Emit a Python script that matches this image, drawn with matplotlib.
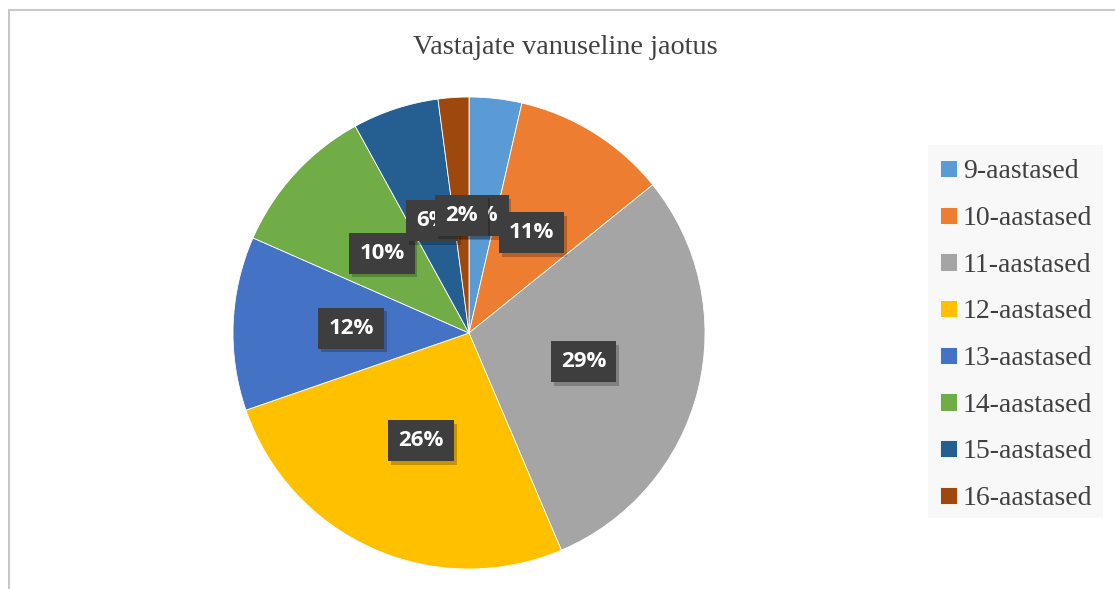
import matplotlib.pyplot as plt
import matplotlib.patheffects as pe
from matplotlib.patches import Rectangle

# data
groups = ["9-aastased", "10-aastased", "11-aastased", "12-aastased",
          "13-aastased", "14-aastased", "15-aastased", "16-aastased"]
shares = [3.6, 10.6, 29.4, 26.1, 11.9, 10.4, 5.9, 2.1]
colors = ["#5B9BD5", "#ED7D31", "#A5A5A5", "#FFC000",
          "#4472C4", "#70AD47", "#255E91", "#9E480E"]
title = "Vastajate vanuseline jaotus"

W, H = 1115, 589
fig = plt.figure(figsize=(W / 100, H / 100), dpi=100)

# chart frame
fig.patches.append(Rectangle((9 / W, -0.1), 1.2, 1 - 10 / H + 0.1,
                             transform=fig.transFigure, fill=False,
                             ec="#c8c8c8", lw=1.5))

cx, cy, r = 469, 333, 236
ax = fig.add_axes([(cx - r) / W, (H - cy - r) / H, 2 * r / W, 2 * r / H])
wedges, _, autotexts = ax.pie(
    shares, colors=colors, startangle=90, counterclock=False,
    autopct=lambda p: f"{p:.0f}%", pctdistance=0.5,
    wedgeprops=dict(edgecolor="white", linewidth=0.6),
)
ax.set_xlim(-1, 1)
ax.set_ylim(-1, 1)
ax.set_aspect("equal")

for i, t in enumerate(autotexts):
    t.set_color("white")
    t.set_fontfamily("Open Sans")
    t.set_fontweight("bold")
    t.set_fontsize(16)
    t.set_zorder(10 + i)
    t.set_bbox(dict(boxstyle="square,pad=0.45", fc="#3e3e3e", ec="none"))
    t.get_bbox_patch().set_path_effects([
        pe.SimplePatchShadow(offset=(2, -2.5), shadow_rgbFace="black",
                             alpha=0.22),
        pe.Normal(),
    ])

fig.text(565 / W, 1 - 48 / H, title, ha="center", va="center",
         family="Liberation Serif", fontsize=20.3, color="#404040")

fig.patches.append(Rectangle((928 / W, 1 - 518 / H), 175 / W, 373 / H,
                             transform=fig.transFigure, fc="#f8f8f8",
                             ec="none"))
leg = fig.legend(wedges, groups, loc="upper left",
                 bbox_to_anchor=(921 / W, 1 - 140 / H),
                 frameon=False, prop=dict(family="Liberation Serif", size=20),
                 handlelength=0.6, handleheight=0.6, handletextpad=0.2,
                 labelspacing=0.78, borderpad=0.2, labelcolor="#404040")

fig.savefig("out.png", dpi=100)
